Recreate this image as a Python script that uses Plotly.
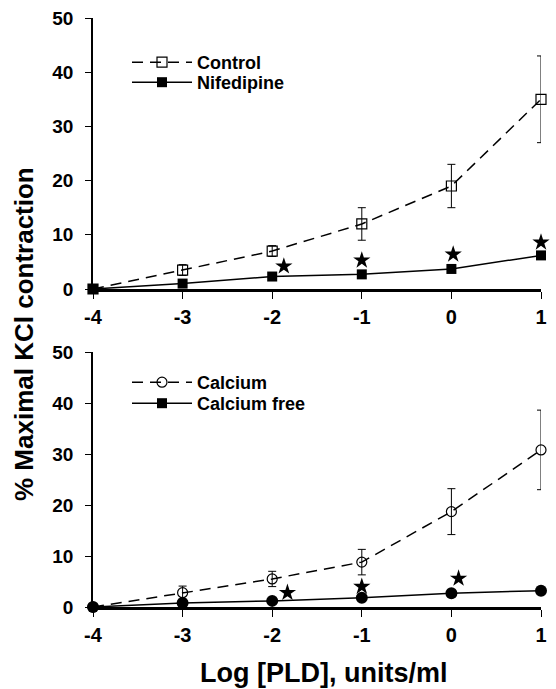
import plotly.graph_objects as go

# ---- data ----
log_pld = [-4, -3, -2, -1, 0, 1]
log_pld_text = ["-4", "-3", "-2", "-1", "0", "1"]
tick_vals_y = [0, 10, 20, 30, 40, 50]

control = [0, 3.5, 7.0, 12.0, 19.0, 35.0]
control_err = [0, 1.0, 1.0, 3.0, 4.0, 8.0]
nifedipine = [0, 1.0, 2.3, 2.7, 3.7, 6.2]

calcium = [0, 2.8, 5.5, 8.8, 18.7, 30.8]
calcium_err = [0, 1.3, 1.5, 2.5, 4.5, 7.8]
calcium_free = [0, 0.8, 1.2, 1.8, 2.7, 3.2]

star_top_x = [-1.87, -1.0, 0.02, 1.0]
star_top_y = [4.2, 5.3, 6.4, 8.6]
star_bot_x = [-1.83, -1.0, 0.08, 1.07]
star_bot_y = [2.8, 4.0, 5.6, 5.8]

FONT = "Liberation Sans, Arial, sans-serif"
W, H = 556, 689

fig = go.Figure()

# top panel
fig.add_trace(go.Scatter(
    x=log_pld, y=control, name="Control", mode="lines+markers",
    line=dict(color="black", width=1.5, dash="11px,7px"),
    marker=dict(symbol="square-open", size=10, color="black", line=dict(width=1.2)),
    error_y=dict(type="data", array=control_err, color="black", thickness=1, width=4),
    xaxis="x", yaxis="y", legend="legend", cliponaxis=False))
fig.add_trace(go.Scatter(
    x=log_pld, y=nifedipine, name="Nifedipine", mode="lines+markers",
    line=dict(color="black", width=1.5),
    marker=dict(symbol="square", size=10, color="black"),
    xaxis="x", yaxis="y", legend="legend3", cliponaxis=False))
fig.add_trace(go.Scatter(
    x=star_top_x, y=star_top_y, mode="markers", showlegend=False,
    marker=dict(symbol="star", size=13, color="black"),
    xaxis="x", yaxis="y", cliponaxis=False))

# bottom panel
fig.add_trace(go.Scatter(
    x=log_pld, y=calcium, name="Calcium", mode="lines+markers",
    line=dict(color="black", width=1.5, dash="11px,7px"),
    marker=dict(symbol="circle-open", size=10, color="black", line=dict(width=1.2)),
    error_y=dict(type="data", array=calcium_err, color="black", thickness=1, width=4),
    xaxis="x2", yaxis="y2", legend="legend2", cliponaxis=False))
fig.add_trace(go.Scatter(
    x=log_pld, y=calcium_free, name="Calcium free", mode="lines+markers",
    line=dict(color="black", width=1.5), showlegend=False,
    marker=dict(symbol="circle", size=12, color="black"),
    xaxis="x2", yaxis="y2", cliponaxis=False))
fig.add_trace(go.Scatter(
    x=[None], y=[None], name="Calcium free", mode="lines+markers",
    line=dict(color="black", width=1.5),
    marker=dict(symbol="square", size=10, color="black"),
    xaxis="x2", yaxis="y2", legend="legend4"))
fig.add_trace(go.Scatter(
    x=star_bot_x, y=star_bot_y, mode="markers", showlegend=False,
    marker=dict(symbol="star", size=13, color="black"),
    xaxis="x2", yaxis="y2", cliponaxis=False))

L, R = 93, 541
top_y0, top_y50 = 289, 18
bot_y0, bot_y50 = 607, 352

def fy(px):
    return 1 - px / H

def fx(px):
    return (px - L) / (R - L)

xcommon = dict(range=[-4, 1], tickvals=log_pld, ticktext=log_pld_text, showline=True,
               linecolor="black", linewidth=2.5, ticks="outside", ticklen=7,
               tickcolor="black", tickwidth=1, ticklabelstandoff=1,
               showgrid=False, zeroline=False, automargin=False,
               tickfont=dict(family=FONT, size=20, color="black", weight="bold"))
ycommon = dict(range=[0, 50], tickvals=tick_vals_y, showline=True, linecolor="black",
               linewidth=1.5, ticks="outside", ticklen=6, tickcolor="black", tickwidth=1,
               ticklabelstandoff=8,
               showgrid=False, zeroline=False, automargin=False,
               tickfont=dict(family=FONT, size=19, color="black", weight="bold"))

legcommon = dict(font=dict(family=FONT, size=18, color="black", weight="bold"),
                 bgcolor="rgba(0,0,0,0)", xanchor="left", yanchor="top",
                 tracegroupgap=0, itemwidth=60)

fig.update_layout(
    width=W, height=H, margin=dict(l=L, r=W - R, t=0, b=0),
    paper_bgcolor="white", plot_bgcolor="white",
    xaxis=dict(domain=[0, 1], anchor="y", **xcommon),
    yaxis=dict(domain=[fy(top_y0), fy(top_y50)], anchor="x", **ycommon),
    xaxis2=dict(domain=[0, 1], anchor="y2", **xcommon),
    yaxis2=dict(domain=[fy(bot_y0), fy(bot_y50)], anchor="x2", **ycommon),
    legend=dict(x=fx(127), y=fy(44), **legcommon),
    legend3=dict(x=fx(127), y=fy(64), **legcommon),
    legend2=dict(x=fx(127), y=fy(364), **legcommon),
    legend4=dict(x=fx(127), y=fy(385), **legcommon),
    annotations=[
        dict(text="<b>% Maximal KCl contraction</b>", x=fx(24), y=fy(334),
             xref="paper", yref="paper", textangle=-90, showarrow=False,
             xanchor="center", yanchor="middle",
             font=dict(family=FONT, size=26, color="black")),
        dict(text="<b>Log [PLD], units/ml</b>", x=fx(323), y=fy(673),
             xref="paper", yref="paper", showarrow=False,
             xanchor="center", yanchor="middle",
             font=dict(family=FONT, size=27, color="black")),
    ],
)

fig.write_html("out.html")
